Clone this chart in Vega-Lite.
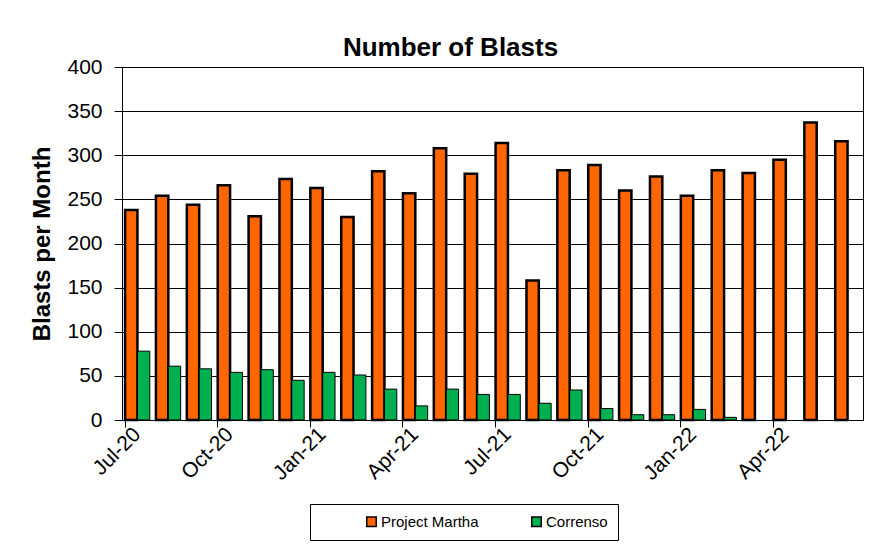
{
  "$schema": "https://vega.github.io/schema/vega-lite/v6.json",
  "width": 741,
  "height": 353,
  "autosize": {"type": "none"},
  "padding": {"left": 122, "top": 67, "right": 11, "bottom": 124},
  "background": "white",
  "title": {"text": "Number of Blasts", "fontSize": 26, "fontWeight": "bold", "font": "Liberation Sans", "color": "black", "anchor": "middle", "dx": -42, "offset": -5},
  "config": {
    "font": "Liberation Sans",
    "view": {"stroke": "black", "strokeWidth": 1}
  },
  "data": {"values": [
    {"month": "Jul-20", "series": "Project Martha", "value": 238},
    {"month": "Aug-20", "series": "Project Martha", "value": 254},
    {"month": "Sep-20", "series": "Project Martha", "value": 244},
    {"month": "Oct-20", "series": "Project Martha", "value": 266},
    {"month": "Nov-20", "series": "Project Martha", "value": 231},
    {"month": "Dec-20", "series": "Project Martha", "value": 273},
    {"month": "Jan-21", "series": "Project Martha", "value": 263},
    {"month": "Feb-21", "series": "Project Martha", "value": 230},
    {"month": "Mar-21", "series": "Project Martha", "value": 282},
    {"month": "Apr-21", "series": "Project Martha", "value": 257},
    {"month": "May-21", "series": "Project Martha", "value": 308},
    {"month": "Jun-21", "series": "Project Martha", "value": 279},
    {"month": "Jul-21", "series": "Project Martha", "value": 314},
    {"month": "Aug-21", "series": "Project Martha", "value": 158},
    {"month": "Sep-21", "series": "Project Martha", "value": 283},
    {"month": "Oct-21", "series": "Project Martha", "value": 289},
    {"month": "Nov-21", "series": "Project Martha", "value": 260},
    {"month": "Dec-21", "series": "Project Martha", "value": 276},
    {"month": "Jan-22", "series": "Project Martha", "value": 254},
    {"month": "Feb-22", "series": "Project Martha", "value": 283},
    {"month": "Mar-22", "series": "Project Martha", "value": 280},
    {"month": "Apr-22", "series": "Project Martha", "value": 295},
    {"month": "May-22", "series": "Project Martha", "value": 337},
    {"month": "Jun-22", "series": "Project Martha", "value": 316},
    {"month": "Jul-20", "series": "Correnso", "value": 78},
    {"month": "Aug-20", "series": "Correnso", "value": 61},
    {"month": "Sep-20", "series": "Correnso", "value": 58},
    {"month": "Oct-20", "series": "Correnso", "value": 54},
    {"month": "Nov-20", "series": "Correnso", "value": 57},
    {"month": "Dec-20", "series": "Correnso", "value": 45},
    {"month": "Jan-21", "series": "Correnso", "value": 54},
    {"month": "Feb-21", "series": "Correnso", "value": 51},
    {"month": "Mar-21", "series": "Correnso", "value": 35},
    {"month": "Apr-21", "series": "Correnso", "value": 16},
    {"month": "May-21", "series": "Correnso", "value": 35},
    {"month": "Jun-21", "series": "Correnso", "value": 29},
    {"month": "Jul-21", "series": "Correnso", "value": 29},
    {"month": "Aug-21", "series": "Correnso", "value": 19},
    {"month": "Sep-21", "series": "Correnso", "value": 34},
    {"month": "Oct-21", "series": "Correnso", "value": 13},
    {"month": "Nov-21", "series": "Correnso", "value": 6},
    {"month": "Dec-21", "series": "Correnso", "value": 6},
    {"month": "Jan-22", "series": "Correnso", "value": 12},
    {"month": "Feb-22", "series": "Correnso", "value": 3}
  ]},
  "mark": {"type": "bar", "stroke": "black"},
  "encoding": {
    "x": {
      "field": "month",
      "type": "ordinal",
      "sort": ["Jul-20","Aug-20","Sep-20","Oct-20","Nov-20","Dec-20","Jan-21","Feb-21","Mar-21","Apr-21","May-21","Jun-21","Jul-21","Aug-21","Sep-21","Oct-21","Nov-21","Dec-21","Jan-22","Feb-22","Mar-22","Apr-22","May-22","Jun-22"],
      "scale": {"paddingInner": 0.2, "paddingOuter": 0.1},
      "axis": {
        "title": null,
        "values": ["Jul-20","Oct-20","Jan-21","Apr-21","Jul-21","Oct-21","Jan-22","Apr-22"],
        "bandPosition": 0,
        "labelAngle": -45,
        "labelAlign": "right",
        "labelBaseline": "middle",
        "labelFontSize": 21,
        "labelColor": "black",
        "labelPadding": 4,
        "tickColor": "black",
        "tickSize": 7,
        "domainColor": "black",
        "grid": false
      }
    },
    "xOffset": {"field": "series", "type": "nominal", "scale": {"domain": ["Project Martha", "Correnso"], "paddingInner": 0, "paddingOuter": 0}},
    "y": {
      "field": "value",
      "type": "quantitative",
      "scale": {"domain": [0, 400], "nice": false},
      "axis": {
        "title": "Blasts per Month",
        "titleFontSize": 24,
        "titleFontWeight": "bold",
        "titleColor": "black",
        "titlePadding": 12,
        "values": [0, 50, 100, 150, 200, 250, 300, 350, 400],
        "labelFontSize": 21,
        "labelColor": "black",
        "labelPadding": 12,
        "tickColor": "black",
        "tickSize": 8,
        "domainColor": "black",
        "grid": true,
        "gridColor": "black",
        "gridOpacity": 1,
        "gridWidth": 1
      }
    },
    "fill": {
      "field": "series",
      "type": "nominal",
      "scale": {"domain": ["Project Martha", "Correnso"], "range": ["#FF6600", "#00B050"]},
      "legend": {
        "title": null,
        "orient": "none",
        "legendX": 188,
        "legendY": 437,
        "direction": "horizontal",
        "strokeColor": "black",
        "fillColor": "white",
        "padding": 10,
        "symbolType": "square",
        "symbolSize": 90,
        "symbolStrokeColor": "black",
        "symbolStrokeWidth": 1.5,
        "symbolOffset": 44,
        "columnPadding": 6,
        "labelFontSize": 15,
        "labelColor": "black",
        "labelOffset": 2
      }
    },
    "strokeWidth": {"condition": {"test": "datum.series === 'Project Martha'", "value": 2.5}, "value": 1}
  }
}
